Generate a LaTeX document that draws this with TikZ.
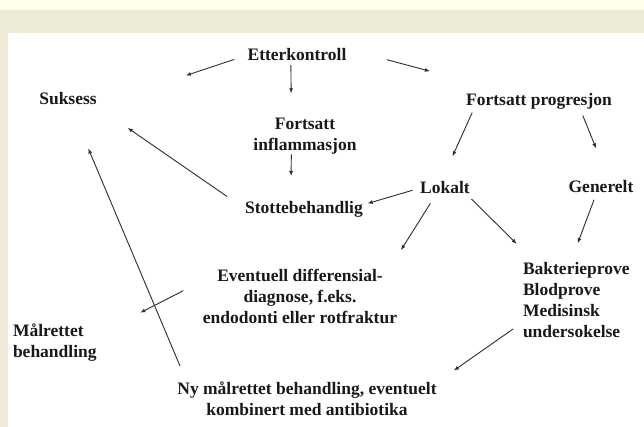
\documentclass[tikz,border=0pt]{standalone}
\usepackage{fontspec}
\setmainfont{Liberation Serif}
\usetikzlibrary{arrows.meta}
\definecolor{BandYellow}{RGB}{255,255,234}
\definecolor{PageBeige}{RGB}{238,235,216}
\definecolor{InkGray}{RGB}{45,45,45}

\begin{document}
\begin{tikzpicture}[x=1pt,y=-1pt,>={Latex[length=5pt,width=4pt]}]
\tikzstyle{flowtext}=[inner sep=0pt,outer sep=0pt,text=black!90,font=\fontsize{17.5}{21}\selectfont\bfseries]
\tikzstyle{link}=[->,InkGray,line width=0.9pt]
\useasboundingbox (0,0) rectangle (644,427);
\fill[PageBeige] (0,0) rectangle (644,427);
\fill[BandYellow] (0,0) rectangle (644,10);
\fill[white] (7.5,33) rectangle (644,427);
\node[flowtext] (etter) at (297,55) {Etterkontroll};
\node[flowtext] (suksess) at (68,99) {Suksess};
\node[flowtext] (fortprog) at (539,101) {Fortsatt progresjon};
\node[flowtext,align=center] (fortinfl) at (305,136.4) {Fortsatt\\inflammasjon};
\node[flowtext] (lokalt) at (445,188) {Lokalt};
\node[flowtext] (generelt) at (601,187) {Generelt};
\node[flowtext] (stotte) at (304,209) {Stottebehandlig};
\node[flowtext,align=center] (eventuell) at (300,296) {Eventuell differensial-\\diagnose, f.eks.\\endodonti eller rotfraktur};
\node[flowtext,align=left,anchor=west] (bakterie) at (523,300.5) {Bakterieprove\\Blodprove\\Medisinsk\\undersokelse};
\node[flowtext,align=left,anchor=west] (maalrettet) at (13,342.4) {Målrettet\\behandling};
\node[flowtext,align=center] (ny) at (307,398.5) {Ny målrettet behandling, eventuelt\\kombinert med antibiotika};
\draw[link,shorten <=14pt,shorten >=94pt] (etter.west) -- (suksess.south east);
\draw[link,shorten <=42pt,shorten >=84pt] (etter.north east) -- (fortprog.164);
\draw[link,shorten <=4pt,shorten >=25pt] (etter.225) -- (fortinfl.127);
\draw[link,shorten <=4pt,shorten >=28pt] (fortprog.187) -- (lokalt.123);
\draw[link,shorten <=7pt,shorten >=35pt] (fortprog.349) -- (generelt.37);
\draw[link,shorten >=25pt] (fortinfl.233) -- (stotte.149);
\draw[link,shorten <=22pt,shorten >=40pt] (stotte.west) -- (suksess.347);
\draw[link,shorten <=8pt,shorten >=5pt] (lokalt.west) -- (stotte.4);
\draw[link,shorten <=11pt,shorten >=22pt] (lokalt.215) -- (eventuell.17);
\draw[link,shorten <=7pt,shorten >=27pt] (lokalt.344) -- (bakterie.137);
\draw[link,shorten <=7pt,shorten >=21pt] (generelt.234) -- (bakterie.99);
\draw[link,shorten <=22pt,shorten >=49pt] (eventuell.171) -- (maalrettet.10);
\draw[link,shorten <=12pt,shorten >=21pt] (bakterie.202) -- (ny.7);
\draw[link,shorten <=17pt,shorten >=47pt] (ny.172) -- (suksess.288);
\end{tikzpicture}
\end{document}
